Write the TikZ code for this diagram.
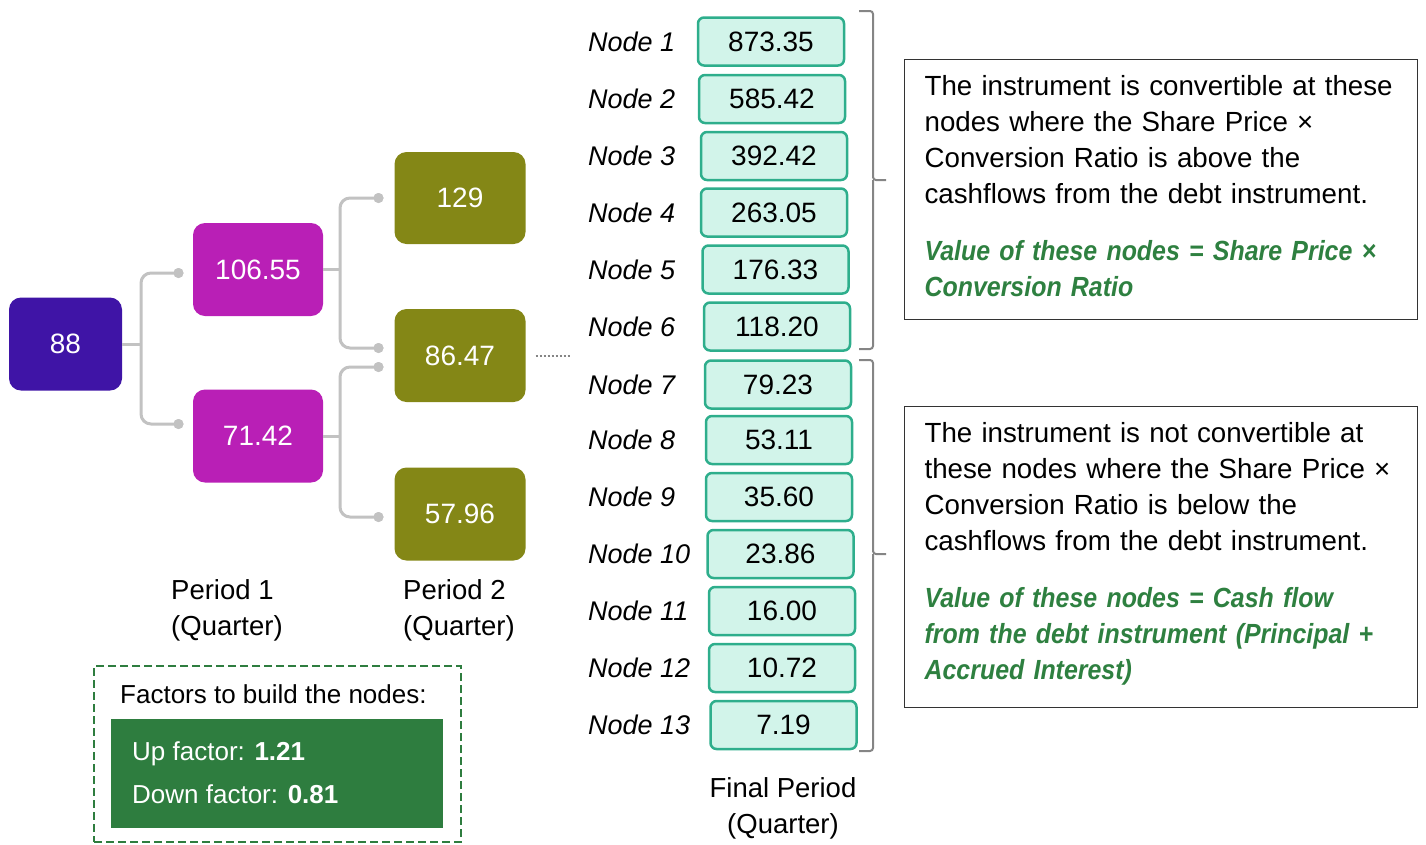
\documentclass[tikz,border=0pt]{standalone}
\usepackage{fontspec}
\setmainfont{Liberation Sans}
\newfontfamily\greenfont{Liberation Sans}[FakeStretch=0.9]
\definecolor{rootc}{HTML}{3F14A6}
\definecolor{upc}{HTML}{B91FB6}
\definecolor{olivec}{HTML}{848716}
\definecolor{mintc}{HTML}{D2F4EA}
\definecolor{tealc}{HTML}{2EAE8C}
\definecolor{linec}{HTML}{C2C2C2}
\definecolor{bracec}{HTML}{858585}
\definecolor{greenc}{HTML}{2E8040}
\definecolor{factc}{HTML}{2E7D3F}
\newcommand{\greenline}[1]{\textcolor{greenc}{\greenfont\bfseries\itshape #1}}

\begin{document}
\begin{tikzpicture}[x=1pt,y=-1pt,
    valbox/.style={rounded corners=12pt, text=white, minimum height=93pt,
        font=\fontsize{28}{34}\selectfont},
    finalbox/.style={draw=tealc, fill=mintc, line width=2.5pt, rounded corners=6pt,
        minimum width=146pt, minimum height=48pt, font=\fontsize{28}{34}\selectfont},
    nodelbl/.style={anchor=west, inner sep=0pt, font=\fontsize{27}{34}\selectfont\itshape},
    conn/.style={draw=linec, line width=3pt, rounded corners=10pt},
    dotc/.style={circle, fill=linec, inner sep=0pt, minimum size=10pt},
    brace/.style={draw=bracec, line width=2pt, rounded corners=3pt},
    note/.style={draw=black!80, line width=1.2pt, anchor=north west, inner xsep=20pt,
        inner ysep=15.5pt, text width=473pt, align=left, text height=20.5pt,
        font=\fontsize{27.7}{36}\selectfont},
    period/.style={inner sep=0pt, font=\fontsize{27.5}{36}\selectfont}
]
    \useasboundingbox (0,0) rectangle (1426,844);

    % binomial tree
    \node[valbox, fill=rootc, minimum width=113pt] (root) at (65.5,344) {88};
    \node[valbox, fill=upc, minimum width=130pt] (up) at (258,269.5) {106.55};
    \node[valbox, fill=upc, minimum width=130pt] (dn) at (258,436) {71.42};
    \node[valbox, fill=olivec, minimum width=131pt, minimum height=92pt] (uu) at (460,198) {129};
    \node[valbox, fill=olivec, minimum width=131pt] (ud) at (460,355.5) {86.47};
    \node[valbox, fill=olivec, minimum width=131pt] (dd) at (460,514) {57.96};

    \coordinate (j0) at (141,344);
    \coordinate (j1) at (340,269.5);
    \coordinate (j2) at (340,436);
    \node[dotc] (pa) at (178.5,273) {};
    \node[dotc] (pb) at (178.5,424) {};
    \node[dotc] (pc) at (378.5,198) {};
    \node[dotc] (pd) at (378.5,348) {};
    \node[dotc] (pe) at (378.5,367) {};
    \node[dotc] (pf) at (378.5,517) {};

    \draw[conn] (root.east) -- (j0);
    \draw[conn] (pa.center) -| (j0) |- (pb.center);
    \draw[conn] (up.east) -- (j1);
    \draw[conn] (pc.center) -| (j1) |- (pd.center);
    \draw[conn] (dn.east) -- (j2);
    \draw[conn] (pe.center) -| (j2) |- (pf.center);
    \foreach \p in {pa,pb,pc,pd,pe,pf} \fill[linec] (\p) circle (5pt);

    \draw[bracec, line width=2pt, dotted] ([xshift=10pt]ud.east) -- ++(35,0);

    % final period
    \node[finalbox] (f1) at (771,41.5) {873.35};
    \node[finalbox] (f2) at (772,99) {585.42};
    \node[finalbox] (f3) at (774,156) {392.42};
    \node[finalbox] (f4) at (774,212.5) {263.05};
    \node[finalbox] (f5) at (775.5,269.5) {176.33};
    \node[finalbox] (f6) at (777,326.5) {118.20};
    \node[finalbox] (f7) at (778,384.5) {79.23};
    \node[finalbox] (f8) at (779,440) {53.11};
    \node[finalbox] (f9) at (779,497) {35.60};
    \node[finalbox] (f10) at (780.5,554) {23.86};
    \node[finalbox] (f11) at (782,611) {16.00};
    \node[finalbox] (f12) at (782,668) {10.72};
    \node[finalbox] (f13) at (783.5,725) {7.19};

    \node[nodelbl] (l1) at (588,41.5) {Node 1};
    \node[nodelbl] (l2) at (588,99) {Node 2};
    \node[nodelbl] (l3) at (588,156) {Node 3};
    \node[nodelbl] (l4) at (588,212.5) {Node 4};
    \node[nodelbl] (l5) at (588,269.5) {Node 5};
    \node[nodelbl] (l6) at (588,326.5) {Node 6};
    \node[nodelbl] (l7) at (588,384.5) {Node 7};
    \node[nodelbl] (l8) at (588,440) {Node 8};
    \node[nodelbl] (l9) at (588,497) {Node 9};
    \node[nodelbl] (l10) at (588,554) {Node 10};
    \node[nodelbl] (l11) at (588,611) {Node 11};
    \node[nodelbl] (l12) at (588,668) {Node 12};
    \node[nodelbl] (l13) at (588,725) {Node 13};

    % brackets
    \draw[brace] (859,11) -| (873,180) -- (886,180);
    \draw[brace] (873,180) |- (859,349);
    \draw[brace] (859,360) -| (873,554) -- (886,554);
    \draw[brace] (873,554) |- (859,751);

    % notes
    \node[note, text depth=208.5pt] (conv) at (904,59) {The instrument is convertible at these\\
        nodes where the Share Price ×\\
        Conversion Ratio is above the\\
        cashflows from the debt instrument.\\[21pt]
        \greenline{Value of these nodes = Share Price ×}\\
        \greenline{Conversion Ratio}};
    \node[note, text depth=249.5pt] (nconv) at (904,406) {The instrument is not convertible at\\
        these nodes where the Share Price ×\\
        Conversion Ratio is below the\\
        cashflows from the debt instrument.\\[21pt]
        \greenline{Value of these nodes = Cash flow}\\
        \greenline{from the debt instrument (Principal +}\\
        \greenline{Accrued Interest)}};

    % period labels
    \node[period, anchor=north west, align=left] (p1) at (171,579) {Period 1\\(Quarter)};
    \node[period, anchor=north west, align=left] (p2) at (403,579) {Period 2\\(Quarter)};
    \node[period, anchor=north, align=center] (p3) at (783,777) {Final Period\\(Quarter)};

    % factors
    \node[draw=factc, dash pattern=on 8pt off 4pt, line width=2pt,
        minimum width=367pt, minimum height=176pt] (fbox) at (277.5,754) {};
    \node[anchor=base west, inner sep=0pt, font=\fontsize{26}{32}\selectfont] (ftitle)
        at (120,703) {Factors to build the nodes:};
    \node[fill=factc, minimum width=332pt, minimum height=109pt] (gbox) at (277,773.5) {};
    \node[anchor=base west, inner sep=0pt, text=white, font=\fontsize{26}{32}\selectfont] (upf)
        at (132,760) {Up factor: \textbf{1.21}};
    \node[anchor=base west, inner sep=0pt, text=white, font=\fontsize{26}{32}\selectfont] (dnf)
        at (132,803) {Down factor: \textbf{0.81}};
\end{tikzpicture}
\end{document}
